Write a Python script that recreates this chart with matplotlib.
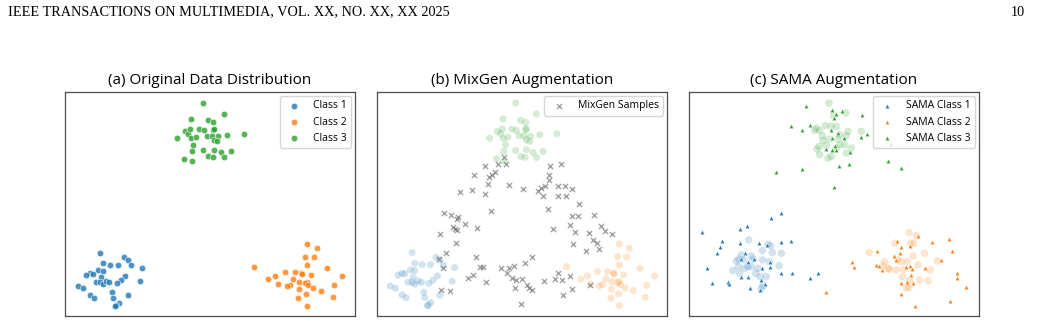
import matplotlib
matplotlib.use("Agg")
from matplotlib import pyplot as plt

# ---- data (embedding coordinates) ----
# (a) original classes, also drawn faded in (b)
class1_x = [-33.0, -25.8, -24.7, -32.2, -30.0, -27.5, -23.7, -20.3, -33.5, -32.2, -36.0, -35.2, -37.2,
            -25.4, -32.7, -34.2, -33.0, -32.2, -31.2, -30.2, -26.7, -28.0, -21.0, -39.5, -38.0, -29.5,
            -36.0, -34.8, -29.2, -24.7, -27.4, -28.2, -28.4]
class1_y = [-12.8, -14.2, -15.0, -16.0, -16.4, -16.4, -16.6, -17.3, -18.0, -18.2, -19.0, -19.2, -19.6,
            -19.8, -20.2, -21.7, -21.7, -22.3, -21.3, -21.7, -21.1, -22.0, -21.4, -22.8, -23.5, -24.7,
            -25.5, -26.3, -26.3, -25.6, -27.8, -28.5, -28.8]
class2_x = [29.0, 32.0, 28.5, 31.2, 29.0, 13.3, 35.2, 22.5, 25.5, 27.3, 30.3, 27.5, 19.5, 39.6, 17.5,
            25.0, 29.0, 20.5, 24.0, 23.0, 26.8, 28.5, 29.4, 37.2, 30.8, 26.7, 33.2, 28.8, 26.5, 36.8, 29.0]
class2_y = [-10.2, -11.5, -14.0, -14.2, -16.5, -17.0, -17.5, -18.5, -18.5, -19.0, -19.5, -19.2, -19.8,
            -19.8, -20.7, -20.7, -21.5, -22.2, -22.4, -22.8, -21.5, -21.8, -22.5, -22.6, -23.4, -23.8,
            -24.2, -25.2, -26.5, -26.2, -28.7]
class3_x = [-2.0, 4.2, -5.8, -0.5, 1.0, -7.5, -6.5, -6.0, -3.2, -1.8, 1.0, 1.2, 10.3, 5.2, -9.8, -5.7,
            -4.3, -1.0, 0.5, 2.5, 1.2, 2.2, -5.0, -5.5, -2.0, 1.2, 3.2, 6.2, -0.5, 0.8, 4.2, -7.7, -5.4]
class3_y = [32.0, 28.7, 27.2, 26.8, 26.2, 23.5, 22.8, 24.2, 24.2, 23.8, 24.0, 24.3, 22.8, 22.5, 21.5,
            21.4, 21.8, 22.2, 22.2, 22.0, 21.0, 20.5, 19.5, 17.5, 17.8, 18.0, 17.2, 17.5, 16.0, 15.7,
            15.7, 15.3, 14.6]

# (b) MixGen samples
mix_x = [-5.4, -7.2, -4.9, -11.2, -8.3, -9.0, -10.0, -14.5, -10.2, -4.0, 0.3, 8.3, 11.5, 7.9, 8.1, 6.8,
         5.5, 10.6, 12.8, 14.9, 4.8, 6.3, 10.8, 13.1, -18.7, -15.0, -11.2, 17.1, 7.8, -9.5, -23.5, -21.5,
         -19.2, -19.5, -17.2, -20.9, -20.2, -19.5, -13.7, -24.5, 14.8, 16.8, 21.5, 14.3, 23.5, 15.8, 20.1,
         24.8, 26.8, 9.3, 21.1, 22.3, 15.3, 22.8, 19.1, -19.9, -22.9, -13.9, -24.9, -23.7, -12.7, -11.7,
         -16.2, -14.7, -6.5, -4.0, -2.5, 0.8, 3.0, -4.7, -3.2, -1.9, -0.2, 1.3, 2.1, 2.8, -2.2, -11.0,
         6.6, 10.8, 11.8, 14.3, 9.8, -24.2, -21.7, 12.3, 14.8, 20.3, -0.4]
mix_y = [15.8, 13.8, 13.8, 13.0, 11.2, 10.5, 9.8, 10.5, 7.7, 7.3, 6.3, 13.2, 13.7, 10.5, 9.0, 7.0, 6.5,
         7.2, 7.0, 6.3, 5.7, 4.0, 4.0, 4.0, 5.2, 5.8, 4.7, 1.7, 0.3, -0.2, -1.0, -1.5, -2.0, -2.8, -4.2,
         -5.0, -5.8, -6.0, -5.5, -7.2, -1.7, -1.8, -1.5, -4.5, -4.7, -6.5, -7.0, -6.2, -7.2, -5.8, -9.0,
         -9.8, -10.3, -11.8, -12.2, -10.0, -12.8, -14.2, -14.7, -17.5, -17.2, -17.2, -20.5, -19.5, -17.5,
         -17.5, -16.7, -16.0, -14.2, -19.0, -20.5, -21.0, -20.8, -22.5, -23.5, -24.0, -23.3, -21.7,
         -21.3, -19.0, -21.0, -19.8, -20.7, -24.0, -24.3, -25.5, -23.8, -22.5, -28.2]

# (c) originals as embedded with SAMA samples
c_orig1_x = [-24.3, -18.5, -17.7, -20.2, -17.2, -14.5, -26.5, -23.5, -27.2, -25.7, -23.0, -20.2, -18.2,
             -15.2, -29.0, -27.4, -24.5, -23.5, -21.5, -22.2, -20.8, -27.0, -19.0, -20.5, -20.0, -25.5, -28.0]
c_orig1_y = [-9.0, -10.3, -10.8, -12.2, -12.8, -13.0, -13.5, -13.8, -14.8, -15.0, -14.8, -15.0, -15.5,
             -16.7, -18.2, -17.0, -17.0, -17.0, -17.5, -19.0, -20.0, -19.0, -20.0, -23.5, -22.8, -17.5, -15.3]
c_orig2_x = [23.8, 26.0, 24.3, 19.5, 25.2, 11.8, 28.5, 16.5, 20.5, 25.0, 21.5, 16.0, 18.0, 20.0, 22.2,
             23.3, 26.5, 30.2, 32.3, 21.8, 24.0, 27.0, 29.5, 23.8, 23.0, 17.5]
c_orig2_y = [-6.8, -7.7, -10.0, -10.0, -10.0, -12.8, -13.0, -15.5, -15.0, -13.8, -15.5, -16.7, -17.8,
             -18.0, -17.8, -15.5, -16.5, -18.0, -15.3, -20.0, -21.0, -21.0, -21.2, -23.3, -23.3, -17.5]
c_orig3_x = [-0.2, 4.8, 1.2, -1.3, 0.5, 2.0, -4.0, -4.5, -3.0, 5.5, 9.5, -2.2, 3.0, 5.0, -2.0, -0.2, 2.5,
             -3.2, -3.8, -1.0, 3.0, 4.5, 6.5, 2.0, -3.0, -0.5, 0.5, 5.0]
c_orig3_y = [32.0, 29.0, 28.2, 25.2, 25.0, 25.0, 24.5, 23.8, 23.8, 23.5, 23.5, 22.2, 22.5, 22.2, 20.7,
             21.2, 21.2, 19.0, 18.2, 19.2, 19.5, 19.5, 18.5, 18.5, 16.5, 15.5, 16.0, 17.0]

# (c) SAMA samples
sama1_x = [-14.7, -17.5, -24.7, -27.0, -38.2, -11.7, -14.7, -32.2, -27.0, -21.2, -32.8, -18.7, -33.7,
           -25.5, -26.7, -22.8, -24.5, -18.0, -36.8, -17.8, -20.3, -26.5, -24.5, -14.5, -11.2, -5.8, -3.5,
           -35.2, -30.5, -30.2, -20.7, -19.5, -24.0, -21.0]
sama1_y = [-0.8, -2.5, -4.7, -5.8, -6.7, -9.3, -9.7, -9.3, -9.8, -10.0, -11.0, -10.5, -12.8, -13.0,
           -14.7, -14.7, -15.5, -15.5, -17.3, -17.0, -17.5, -20.0, -20.0, -19.0, -19.0, -20.5, -18.8,
           -22.0, -21.5, -22.3, -21.0, -22.3, -23.5, -24.0]
sama2_x = [26.5, 35.8, 20.3, 30.7, 36.8, 24.0, 21.3, 14.3, 21.0, 19.3, 20.0, 33.5, 6.8, 13.8, 14.8, 15.8,
           22.8, 24.0, 24.8, 7.2, 28.7, 38.1, 38.3, 24.3, 25.0, 23.3, 21.5, -1.0, 21.5, 40.8, 36.0, 25.5]
sama2_y = [-7.7, -8.7, -9.3, -9.7, -12.2, -10.7, -11.0, -12.2, -12.8, -13.8, -15.0, -15.0, -15.5, -16.5,
           -16.7, -18.0, -17.0, -16.7, -17.8, -17.2, -17.5, -19.0, -20.5, -19.5, -21.8, -21.5, -21.8,
           -24.7, -25.2, -23.2, -27.2, -28.8]
sama3_x = [-7.2, 0.8, 2.0, 3.8, 9.8, -11.5, -6.0, -8.2, 1.2, 0.3, 2.6, 4.3, 9.3, 11.3, 0.8, 1.5, -1.0,
           0.7, 2.0, 6.2, 18.5, 17.5, 21.5, 5.8, 2.8, -8.2, -16.0, 1.3]
sama3_y = [31.0, 29.8, 28.7, 29.7, 28.5, 25.0, 25.3, 24.0, 27.5, 24.0, 23.0, 21.5, 21.8, 22.8, 21.5,
           19.2, 18.2, 18.0, 18.0, 17.2, 19.8, 14.7, 12.5, 13.8, 13.2, 12.3, 11.3, 6.7]

colors = ["#1f77b4", "#ff7f0e", "#2ca02c"]
titles = ["(a) Original Data Distribution", "(b) MixGen Augmentation", "(c) SAMA Augmentation"]
plt.rcParams["font.family"] = ["Open Sans", "DejaVu Sans"]

fig = plt.figure(figsize=(10.41, 3.23), dpi=100)
W, H = 1041, 323
axes = [fig.add_axes([l / W, 7 / H, 290 / W, 224 / H]) for l in (65, 377, 689)]

orig = [(class1_x, class1_y), (class2_x, class2_y), (class3_x, class3_y)]

ax = axes[0]
for i, (x, y) in enumerate(orig):
    ax.scatter(x, y, s=22, c=colors[i], alpha=0.8, edgecolors="white", linewidths=0.5,
               label="Class %d" % (i + 1))

ax = axes[1]
for i, (x, y) in enumerate(orig):
    ax.scatter(x, y, s=26, c=colors[i], alpha=0.2, edgecolors="none")
ax.scatter(mix_x, mix_y, s=14, marker="x", c="#707070", alpha=0.65, linewidths=1.0,
           label="MixGen Samples")

ax = axes[2]
c_orig = [(c_orig1_x, c_orig1_y), (c_orig2_x, c_orig2_y), (c_orig3_x, c_orig3_y)]
sama = [(sama1_x, sama1_y), (sama2_x, sama2_y), (sama3_x, sama3_y)]
for i, (x, y) in enumerate(c_orig):
    ax.scatter(x, y, s=30, c=colors[i], alpha=0.2, edgecolors="none")
for i, (x, y) in enumerate(sama):
    ax.scatter(x, y, s=10, marker="^", c=colors[i], edgecolors="white", linewidths=0.3,
               label="SAMA Class %d" % (i + 1))

xlims = [(-43.5, 43.5), (-43.5, 43.3), (-42.2, 44.8)]
for ax, t, xl in zip(axes, titles, xlims):
    ax.set_xlim(*xl)
    ax.set_ylim(-31.8, 35.3)
    ax.set_xticks([])
    ax.set_yticks([])
    for sp in ax.spines.values():
        sp.set_color("0.3")
        sp.set_linewidth(0.9)
    ax.set_title(t, fontsize=11, pad=6)
    ax.legend(loc="upper right", fontsize=7.5, frameon=True, borderaxespad=0.4)

fig.text(8 / W, 1 - 12 / H, "IEEE TRANSACTIONS ON MULTIMEDIA, VOL. XX, NO. XX, XX 2025",
         family="Liberation Serif", fontsize=10.3, va="center", ha="left")
fig.text(1025 / W, 1 - 12 / H, "10", family="Liberation Serif", fontsize=10.3, va="center", ha="right")

fig.savefig("out.png", dpi=100)
